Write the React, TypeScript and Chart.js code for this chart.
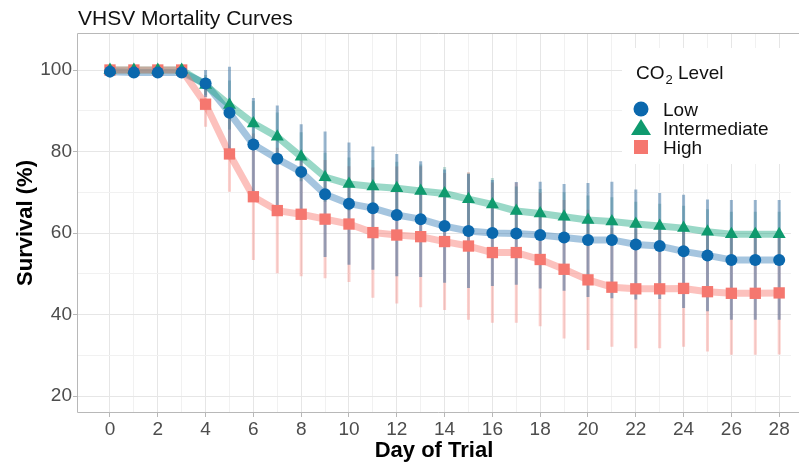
import React, { useEffect, useRef } from "react";
import { Chart, registerables } from "chart.js";

Chart.register(...registerables);

// ---------------- data ----------------
const days = [0, 1, 2, 3, 4, 5, 6, 7, 8, 9, 10, 11, 12, 13, 14, 15, 16, 17, 18, 19, 20, 21, 22, 23, 24, 25, 26, 27, 28];

const lowSurvival = [99.6, 99.4, 99.4, 99.4, 96.7, 89.5, 81.7, 78.2, 75.0, 69.5, 67.2, 66.1, 64.4, 63.4, 61.7, 60.5, 60.0, 59.9, 59.5, 58.9, 58.3, 58.3, 57.2, 56.8, 55.5, 54.5, 53.4, 53.4, 53.4];
const intermediateSurvival = [100, 100, 100, 100, 96.3, 91.4, 86.9, 83.6, 78.7, 73.7, 72.0, 71.4, 71.0, 70.3, 69.7, 68.3, 67.0, 65.4, 64.8, 64.0, 63.2, 62.8, 62.2, 61.7, 61.2, 60.3, 59.7, 59.7, 59.7];
const highSurvival = [100, 100, 100, 100, 91.6, 79.4, 68.9, 65.5, 64.6, 63.4, 62.2, 60.1, 59.5, 59.1, 57.9, 56.8, 55.2, 55.2, 53.5, 51.1, 48.5, 46.7, 46.3, 46.3, 46.4, 45.6, 45.2, 45.2, 45.3];

const lowError = [0, 0, 0, 0, 3.3, 11.3, 11.4, 13.1, 11.7, 15.4, 15.0, 15.1, 15.0, 14.2, 13.9, 14.0, 13.0, 12.6, 13.1, 13.1, 14.0, 14.3, 13.5, 13.0, 13.9, 13.7, 14.7, 14.7, 14.7];
const intermediateError = [0, 0, 0, 0, 2.5, 6.0, 5.5, 6.0, 6.0, 6.0, 6.5, 6.5, 6.5, 6.5, 6.5, 6.5, 6.5, 6.0, 6.0, 6.0, 6.0, 6.0, 5.5, 5.5, 5.5, 5.5, 5.5, 5.5, 5.5];
const highError = [0, 0, 0, 0, 5.5, 9.3, 15.5, 15.4, 15.2, 14.5, 14.2, 16.0, 16.8, 17.3, 16.8, 18.1, 17.2, 17.2, 16.4, 17.0, 17.2, 14.6, 14.6, 14.6, 14.3, 14.7, 15.1, 15.1, 15.1];

const seriesNames = ["Low", "Intermediate", "High"];
const xTickLabels = [0, 2, 4, 6, 8, 10, 12, 14, 16, 18, 20, 22, 24, 26, 28];
const yGridValues = [20, 30, 40, 50, 60, 70, 80, 90, 100];
const yTickLabels = [20, 40, 60, 80, 100];

// ---------------- styles ----------------
const FONT = "'Liberation Sans', Arial, Helvetica, sans-serif";
const POINT_COLORS = ["#0b68ad", "#0f9a6e", "#f5776f"];
const LINE_COLORS = ["rgba(30,110,175,0.40)", "rgba(0,158,115,0.40)", "rgba(248,118,109,0.45)"];
const ERR_COLORS = ["rgba(30,95,150,0.45)", "rgba(0,120,100,0.25)", "rgba(245,118,109,0.35)"];
const POINT_STYLES = ["circle", "triangle", "rect"];
const POINT_RADII = [6, 7.5, 8];
const X_MIN = -1.38;
const PX_PER_DAY = 23.9;

function toPoints(ys: number[]) {
  return days.map((d, i) => ({ x: d, y: ys[i] }));
}

function toErrorSegments(ys: number[], errs: number[]) {
  const out: { x: number; y: number | null }[] = [];
  days.forEach((d, i) => {
    if (errs[i] > 0) {
      out.push({ x: d, y: ys[i] - errs[i] });
      out.push({ x: d, y: ys[i] + errs[i] });
      out.push({ x: d, y: null });
    }
  });
  return out;
}

const decorPlugin = {
  id: "decor",
  afterDraw(chart: any) {
    const { ctx, chartArea } = chart;
    ctx.save();
    // panel border (right side is cropped off in the reference)
    ctx.strokeStyle = "#b8b8b8";
    ctx.lineWidth = 1;
    ctx.beginPath();
    ctx.moveTo(chart.width, chartArea.top + 0.5);
    ctx.lineTo(chartArea.left + 0.5, chartArea.top + 0.5);
    ctx.lineTo(chartArea.left + 0.5, chartArea.bottom - 0.5);
    ctx.lineTo(chart.width, chartArea.bottom - 0.5);
    ctx.stroke();

    // title
    ctx.fillStyle = "#111";
    ctx.font = `21px ${FONT}`;
    ctx.textBaseline = "alphabetic";
    ctx.textAlign = "left";
    ctx.fillText("VHSV Mortality Curves", chartArea.left + 1, 25);

    // legend box
    ctx.fillStyle = "#ffffff";
    ctx.fillRect(622, 48, 172, 116);

    ctx.fillStyle = "#111";
    ctx.font = `19px ${FONT}`;
    ctx.fillText("CO", 636, 79);
    const w = ctx.measureText("CO").width;
    ctx.font = `13px ${FONT}`;
    ctx.fillText("2", 636 + w + 1, 84);
    const w2 = ctx.measureText("2").width;
    ctx.font = `19px ${FONT}`;
    ctx.fillText(" Level", 636 + w + 1 + w2, 79);

    const ys = [109, 128, 147];
    const baselines = [116, 135, 154];
    seriesNames.forEach((name, i) => {
      const cx = 641;
      const cy = ys[i];
      ctx.fillStyle = POINT_COLORS[i];
      ctx.beginPath();
      if (i === 0) {
        ctx.arc(cx, cy, 7.5, 0, Math.PI * 2);
      } else if (i === 1) {
        ctx.moveTo(cx, cy - 9);
        ctx.lineTo(cx + 10, cy + 7);
        ctx.lineTo(cx - 10, cy + 7);
        ctx.closePath();
      } else {
        ctx.rect(cx - 7, cy - 7, 14, 14);
      }
      ctx.fill();
      ctx.fillStyle = "#111";
      ctx.font = `19px ${FONT}`;
      ctx.fillText(name, 663, baselines[i]);
    });
    ctx.restore();
  },
};

export default function App() {
  const canvasRef = useRef<HTMLCanvasElement | null>(null);

  useEffect(() => {
    if (!canvasRef.current) return;
    const survival = [lowSurvival, intermediateSurvival, highSurvival];
    const errors = [lowError, intermediateError, highError];

    const datasets: any[] = [];
    // points (top)
    [0, 1, 2].forEach((i) => {
      datasets.push({
        type: "line",
        label: seriesNames[i],
        data: toPoints(survival[i]),
        showLine: false,
        pointStyle: POINT_STYLES[i],
        pointRadius: POINT_RADII[i],
        pointBackgroundColor: POINT_COLORS[i],
        pointBorderWidth: 0,
        pointBorderColor: POINT_COLORS[i],
        order: i,
      });
    });
    // error bars
    [0, 1, 2].forEach((i) => {
      datasets.push({
        type: "line",
        label: seriesNames[i] + " error",
        data: toErrorSegments(survival[i], errors[i]),
        borderColor: ERR_COLORS[i],
        borderWidth: 3,
        borderCapStyle: "butt",
        pointRadius: 0,
        spanGaps: false,
        fill: false,
        order: 3 + i,
      });
    });
    // thick connecting lines (bottom)
    [0, 1, 2].forEach((i) => {
      datasets.push({
        type: "line",
        label: seriesNames[i] + " line",
        data: toPoints(survival[i]),
        borderColor: LINE_COLORS[i],
        borderWidth: 7,
        borderJoinStyle: "round",
        borderCapStyle: "round",
        pointRadius: 0,
        tension: 0,
        fill: false,
        order: 6 + (2 - i),
      });
    });

    const gridColorX = (c: any) => (c.tick && xTickLabels.includes(c.tick.value) ? "#e6e6e6" : "#f1f1f1");
    const gridColorY = (c: any) => (c.tick && yTickLabels.includes(c.tick.value) ? "#e6e6e6" : "#f1f1f1");

    const chart = new Chart(canvasRef.current, {
      type: "line",
      data: { datasets },
      plugins: [decorPlugin],
      options: {
        responsive: false,
        animation: false,
        devicePixelRatio: 1,
        layout: { padding: { top: 33, right: 0, bottom: 0, left: 0 } },
        plugins: {
          legend: { display: false },
          tooltip: { enabled: false },
          title: { display: false },
        },
        scales: {
          x: {
            type: "linear",
            min: X_MIN,
            max: 28.83,
            afterBuildTicks: (s: any) => {
              s.ticks = days.map((v) => ({ value: v }));
            },
            afterFit: (s: any) => {
              s.height = 51;
            },
            ticks: {
              autoSkip: false,
              maxRotation: 0,
              padding: 1,
              color: "#4d4d4d",
              font: { family: FONT, size: 19 },
              callback: (v: any) => (xTickLabels.includes(v) ? String(v) : ""),
            },
            grid: {
              color: gridColorX,
              lineWidth: 1,
              drawTicks: true,
              tickLength: 4,
              tickColor: (c: any) => (c.tick && xTickLabels.includes(c.tick.value) ? "#b8b8b8" : "rgba(0,0,0,0)"),
            },
            border: { display: false },
            title: {
              display: true,
              text: "Day of Trial",
              color: "#000",
              font: { family: FONT, size: 22, weight: "bold" },
              padding: { top: 0, bottom: 0 },
            },
          },
          y: {
            type: "linear",
            min: 15.83,
            max: 109.08,
            afterBuildTicks: (s: any) => {
              s.ticks = yGridValues.map((v) => ({ value: v }));
            },
            afterFit: (s: any) => {
              s.width = 77;
            },
            ticks: {
              padding: 1,
              color: "#4d4d4d",
              font: { family: FONT, size: 19 },
              callback: (v: any) => (yTickLabels.includes(v) ? String(v) : ""),
            },
            grid: {
              color: gridColorY,
              lineWidth: 1,
              drawTicks: true,
              tickLength: 4,
              tickColor: (c: any) => (c.tick && yTickLabels.includes(c.tick.value) ? "#b8b8b8" : "rgba(0,0,0,0)"),
            },
            border: { display: false },
            title: {
              display: true,
              text: "Survival (%)",
              color: "#000",
              font: { family: FONT, size: 22, weight: "bold" },
              padding: { top: 13, bottom: 0 },
            },
          },
        },
      } as any,
    });

    // match the reference day spacing to whatever width the plot area really got
    const area = chart.chartArea;
    if (area && area.right > area.left) {
      const newMax = X_MIN + (area.right - area.left) / PX_PER_DAY;
      if (isFinite(newMax) && newMax > 28) {
        (chart.options as any).scales.x.max = newMax;
        chart.update();
      }
    }

    return () => chart.destroy();
  }, []);

  return (
    <div style={{ position: "fixed", left: 0, top: 0, width: 799, height: 464, background: "#fff" }}>
      <canvas ref={canvasRef} width={799} height={464} style={{ width: 799, height: 464, display: "block" }} />
    </div>
  );
}
